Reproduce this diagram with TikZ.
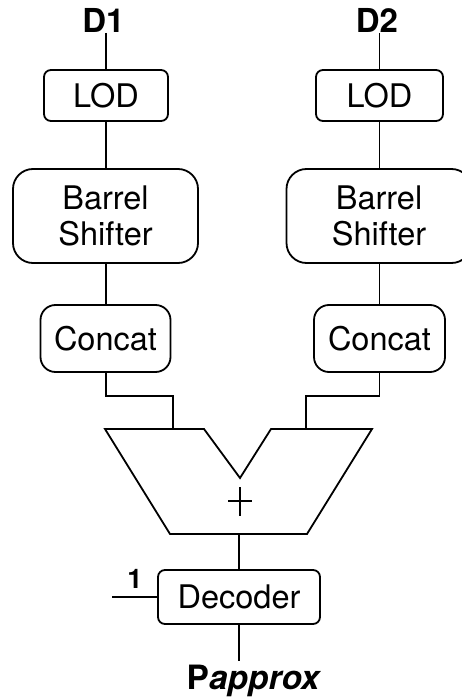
\documentclass[tikz,border=0pt]{standalone}
\usepackage{fontspec}
\setmainfont{TeX Gyre Heros}
\begin{document}
\begin{tikzpicture}[x=1pt,y=-1pt,
  wire/.style={line width=1.8pt},
  block/.style={draw,line width=1.8pt,rounded corners=#1,inner sep=0pt,align=center,
    font=\fontsize{32.5}{36.7}\selectfont},
  block/.default=7pt,
  lbl/.style={inner sep=0pt,font=\fontsize{33}{38}\selectfont\bfseries}]
\useasboundingbox[fill=white] (0,0) rectangle (462,700);

% inputs
\node[lbl,anchor=base] (d1) at (103.5,33) {D1};
\node[lbl,anchor=base] (d2) at (377,33) {D2};

% left datapath
\node[block,minimum width=124pt,minimum height=51pt] (lod1) at (106,95.5) {LOD};
\node[block=20pt,minimum width=185pt,minimum height=94pt] (bs1) at (105.5,216) {Barrel\\Shifter};
\node[block=15pt,minimum width=130pt,minimum height=67pt] (cc1) at (105.5,338.5) {Concat};

% right datapath
\node[block,minimum width=127pt,minimum height=51pt] (lod2) at (379.5,95.5) {LOD};
\node[block=20pt,minimum width=185pt,minimum height=94pt] (bs2) at (379,216) {Barrel\\Shifter};
\node[block=15pt,minimum width=131pt,minimum height=67pt] (cc2) at (379.5,338.5) {Concat};

% adder
\coordinate (in1) at (173,429);
\coordinate (in2) at (306,429);
\coordinate (sum) at (239,534);
\coordinate (jl) at (0,396);
\draw[wire,line join=miter] (105,429) -- (204,429) -- (240,478) -- (271,429) -- (372,429)
  -- (307,534) -- (170,534) -- cycle;
\draw[line width=1.3pt] (228,501) -- (252,501) (240,487) -- (240,516);

% decoder
\node[block,minimum width=162pt,minimum height=54pt] (dec) at (239,597) {Decoder};
\coordinate (one) at (112,597);
\node[lbl,font=\fontsize{27}{30}\selectfont\bfseries] (onelbl) at (135,578.5) {1};
\node[inner sep=0pt,inner ysep=3pt,anchor=base,font=\fontsize{33.5}{38}\selectfont\bfseries]
  (pout) at (254,689) {P\textit{approx}};

% wires
\draw[wire] (lod1.north |- d1.base) -- (lod1.north);
\draw[wire] (lod2.north |- d2.base) -- (lod2.north);
\draw[wire] (lod1) -- (bs1.north -| lod1);
\draw[wire] (lod2) -- (bs2.north -| lod2);
\draw[wire] (bs1.south -| lod1) -- (cc1.north -| lod1);
\draw[wire] (bs2.south -| lod2) -- (cc2.north -| lod2);
\draw[wire] (cc1.south -| lod1) -- (lod1 |- jl) -| (in1);
\draw[wire] (cc2.south -| lod2) -- (lod2 |- jl) -| (in2);
\draw[wire] (sum) -- (dec.north);
\draw[wire] (one) -- (dec.west);
\draw[wire] (dec.south) -- (dec.south |- pout.north);
\end{tikzpicture}
\end{document}
